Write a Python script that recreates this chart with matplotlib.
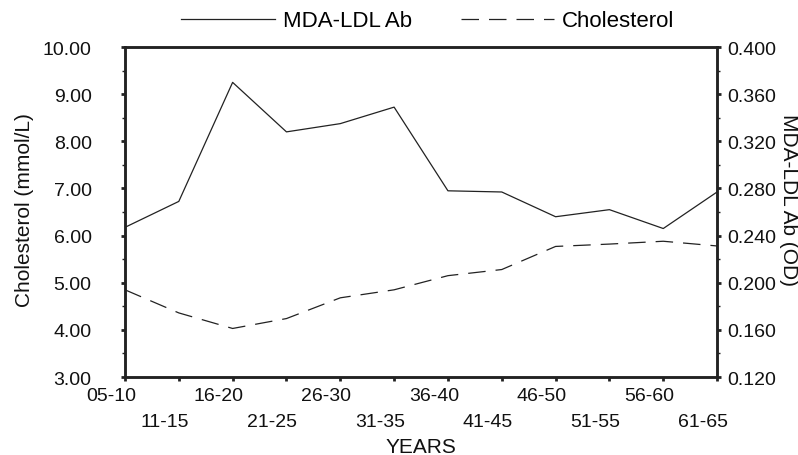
import numpy as np
import matplotlib.pyplot as plt
from matplotlib.ticker import MultipleLocator
from matplotlib.transforms import ScaledTranslation

plt.rcParams['font.family'] = ['Liberation Sans', 'DejaVu Sans']

# Age groups and series
years = ['05-10', '11-15', '16-20', '21-25', '26-30', '31-35',
         '36-40', '41-45', '46-50', '51-55', '56-60', '61-65']
mda_ldl = [0.247, 0.269, 0.370, 0.328, 0.335, 0.349,
           0.278, 0.277, 0.256, 0.262, 0.246, 0.277]
cholesterol = [4.85, 4.36, 4.03, 4.24, 4.68, 4.85,
               5.15, 5.28, 5.77, 5.82, 5.88, 5.78]

ink = '#222222'
x = np.arange(len(years))

fig = plt.figure(figsize=(7.98, 4.56), dpi=100)
ax = fig.add_axes([0.1566, 0.171, 0.742, 0.7237])
ax2 = ax.twinx()

h1, = ax2.plot(x, mda_ldl, color=ink, lw=0.9, label='MDA-LDL Ab')
h2, = ax.plot(x, cholesterol, color=ink, lw=0.9, dashes=(14, 8), label='Cholesterol')

ax.set_xlim(0, len(years) - 1)
ax.set_ylim(3, 10)
ax2.set_ylim(0.12, 0.40)

ax.yaxis.set_major_locator(MultipleLocator(1))
ax.yaxis.set_minor_locator(MultipleLocator(0.5))
ax2.yaxis.set_major_locator(MultipleLocator(0.04))
ax2.yaxis.set_minor_locator(MultipleLocator(0.02))
ax.yaxis.set_major_formatter(lambda v, p: f'{v:.2f}')
ax2.yaxis.set_major_formatter(lambda v, p: f'{v:.3f}')

for a in (ax, ax2):
    for s in a.spines.values():
        s.set_color(ink)
        s.set_linewidth(1.8)
    a.tick_params(which='major', length=3, width=2, colors=ink, labelsize=14, labelcolor='#111111')
    a.tick_params(which='minor', length=2, width=1, colors=ink)
ax.tick_params(axis='y', pad=21)
ax2.tick_params(axis='y', pad=4)

# age labels sit on two staggered rows, nudged a little to the left
ax.set_xticks(x)
ax.set_xticklabels(years)
shift = ScaledTranslation(-14 / 100, 0, fig.dpi_scale_trans)
for i, tick in enumerate(ax.xaxis.get_major_ticks()):
    tick.set_pad(4 if i % 2 == 0 else 23)
    tick.label1.set_transform(tick.label1.get_transform() + shift)

ax.set_ylabel('Cholesterol (mmol/L)', fontsize=15, color='#111111', va='center')
ax.yaxis.set_label_coords(-0.169, 0.509)
ax2.set_ylabel('MDA-LDL Ab (OD)', fontsize=15, color='#111111', rotation=270, va='center')
ax2.yaxis.set_label_coords(1.121, 0.539)
ax.set_xlabel('YEARS', fontsize=15, color='#111111', labelpad=5)

fig.legend(handles=[h1, h2], loc='center', bbox_to_anchor=(0.536, 0.952), ncol=2,
           frameon=False, fontsize=16, handlelength=4.2, handletextpad=0.35,
           columnspacing=2.2)

fig.savefig('out.png', dpi=100)
